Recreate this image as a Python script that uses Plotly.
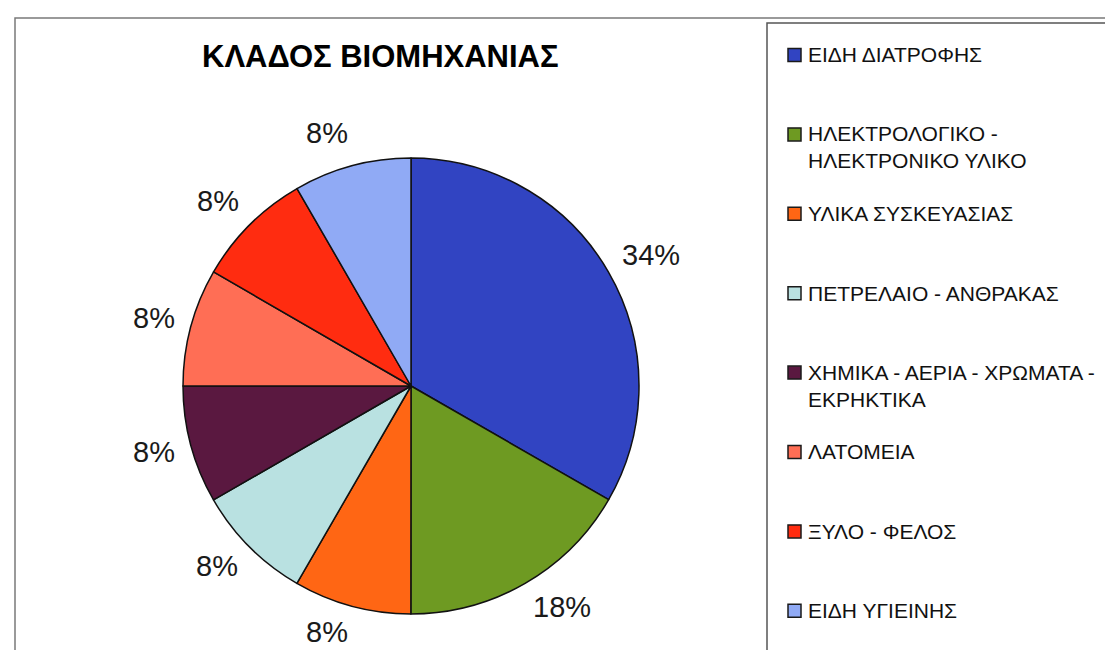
import math
import plotly.graph_objects as go

# ---- data ----
categories = [
    "ΕΙΔΗ ΔΙΑΤΡΟΦΗΣ",
    "ΗΛΕΚΤΡΟΛΟΓΙΚΟ -<br>ΗΛΕΚΤΡΟΝΙΚΟ ΥΛΙΚΟ",
    "ΥΛΙΚΑ ΣΥΣΚΕΥΑΣΙΑΣ",
    "ΠΕΤΡΕΛΑΙΟ - ΑΝΘΡΑΚΑΣ",
    "ΧΗΜΙΚΑ - ΑΕΡΙΑ - ΧΡΩΜΑΤΑ -<br>ΕΚΡΗΚΤΙΚΑ",
    "ΛΑΤΟΜΕΙΑ",
    "ΞΥΛΟ - ΦΕΛΟΣ",
    "ΕΙΔΗ ΥΓΙΕΙΝΗΣ",
]
shares = [33.3, 16.7, 8.33, 8.33, 8.33, 8.33, 8.33, 8.33]
pct_labels = ["34%", "18%", "8%", "8%", "8%", "8%", "8%", "8%"]  # printed labels
colors = ["#3144C2", "#6E9A22", "#FF6614", "#B9E1E1",
          "#5A1840", "#FF6E55", "#FF2C10", "#90AAF5"]
title_text = "ΚΛΑΔΟΣ ΒΙΟΜΗΧΑΝΙΑΣ"

# ---- layout geometry (pixels) ----
W, H = 1113, 650
CX, CY, R = 403, 378, 228
LABEL_RING = 244        # radial distance of the label boxes from the centre
LABEL_SIZE = 29
FONT = "Liberation Sans, Arial, sans-serif"


def px(x):
    return x / W


def py(y):
    return 1 - y / H


fig = go.Figure()
fig.add_trace(go.Pie(
    labels=categories,
    values=shares,
    text=pct_labels,
    textinfo="none",
    sort=False,
    direction="clockwise",
    rotation=0,
    marker=dict(colors=colors, line=dict(color="#111111", width=1.5)),
    domain=dict(x=[px(CX - R), px(CX + R)], y=[py(CY + R), py(CY - R)]),
    showlegend=False,
    hoverinfo="label+text",
))

shapes = [
    # outer chart border
    dict(type="rect", xref="paper", yref="paper",
         x0=px(7), x1=px(W + 20), y0=py(H + 20), y1=py(10),
         line=dict(color="#7a7a7a", width=1.5), fillcolor="rgba(0,0,0,0)"),
    # legend box
    dict(type="rect", xref="paper", yref="paper",
         x0=px(759), x1=px(W + 20), y0=py(H + 20), y1=py(15),
         line=dict(color="#555555", width=1.5), fillcolor="rgba(0,0,0,0)"),
]

annotations = [
    dict(text="<b>" + title_text + "</b>", x=px(372.5), y=py(48.5),
         xref="paper", yref="paper", xanchor="center", yanchor="middle",
         showarrow=False, font=dict(family=FONT, size=31, color="#000000")),
]


def text_half_size(s, size):
    w = sum(0.889 if ch == "%" else 0.556 for ch in s) * size
    return w / 2, 0.38 * size


def sgn(v):
    return 0.0 if abs(v) < 1e-9 else math.copysign(1.0, v)


# percentage labels outside the slices, along each slice's mid-angle
total = sum(shares)
cum = 0.0
for s, lab in zip(shares, pct_labels):
    theta = math.radians(360.0 * (cum + s / 2) / total)
    cum += s
    hw, hh = text_half_size(lab, LABEL_SIZE)
    sx, cy_ = math.sin(theta), math.cos(theta)
    k = 1.6 if cy_ > 0 else 1.0
    lx = CX + LABEL_RING * sx + hw * sgn(sx)
    ly = CY - (LABEL_RING + k * hh) * cy_
    annotations.append(dict(text=lab, x=px(lx), y=py(ly), xref="paper", yref="paper",
                            xanchor="center", yanchor="middle", showarrow=False,
                            font=dict(family=FONT, size=LABEL_SIZE, color="#1a1a1a")))

# manual legend (fixed spacing like the original)
LEG_Y0, LEG_STEP, LINE_H = 47, 79.4, 26
for i, (lab, col) in enumerate(zip(categories, colors)):
    yc = LEG_Y0 + i * LEG_STEP
    nlines = lab.count("<br>") + 1
    shapes.append(dict(type="rect", xref="paper", yref="paper",
                       x0=px(780), x1=px(793), y0=py(yc + 6.5), y1=py(yc - 6.5),
                       fillcolor=col, line=dict(color="#1a1a1a", width=1.5)))
    annotations.append(dict(text=lab, x=px(798), y=py(yc + (nlines - 1) * LINE_H / 2),
                            xref="paper", yref="paper", xanchor="left", yanchor="middle",
                            align="left", showarrow=False,
                            font=dict(family=FONT, size=21, color="#111111")))

fig.update_layout(
    width=W, height=H,
    margin=dict(l=0, r=0, t=0, b=0),
    paper_bgcolor="white", plot_bgcolor="white",
    shapes=shapes, annotations=annotations,
    showlegend=False,
)

fig.write_html("out.html")
